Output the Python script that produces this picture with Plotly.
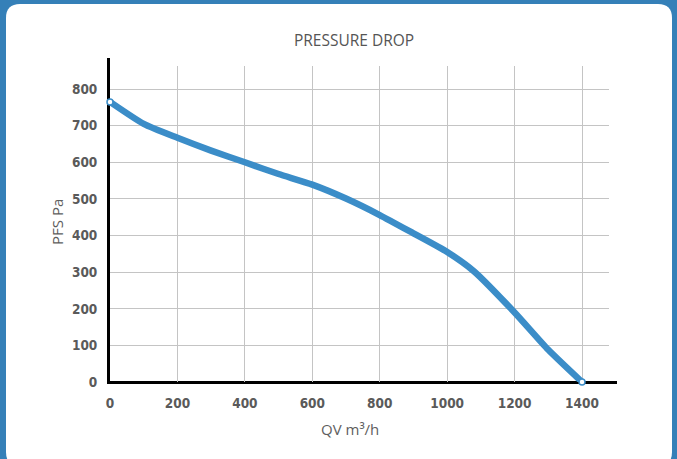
import plotly.graph_objects as go

# Data
qv = [0, 100, 200, 300, 400, 500, 600, 700, 800, 900, 1000, 1080, 1200, 1300, 1400]
pfs = [765, 705, 667, 632, 600, 568, 539, 501, 456, 406, 355, 302, 190, 88, 0]
x_ticks = [0, 200, 400, 600, 800, 1000, 1200, 1400]
y_ticks = [0, 100, 200, 300, 400, 500, 600, 700, 800]

W, H = 677, 459
L, R, T, B = 110, 68, 66, 77
PW, PH = W - L - R, H - T - B

def px(xp):
    return (xp - L) / PW

def py(yp):
    return (H - B - yp) / PH

BLUE = "rgb(59,141,200)"
TICKFONT = dict(family="DejaVu Sans Condensed, DejaVu Sans, sans-serif", size=13.5, color="#5a5a5a", weight="bold")
LABELFONT = dict(family="Open Sans, sans-serif", size=15, color="#5e5e5e")

fig = go.Figure()
fig.add_trace(go.Scatter(
    x=qv, y=pfs, mode="lines",
    line=dict(color=BLUE, width=6.5, shape="spline", smoothing=0.6),
    hoverinfo="skip", showlegend=False, cliponaxis=False,
))
fig.add_trace(go.Scatter(
    x=[qv[0], qv[-1]], y=[pfs[0], pfs[-1]], mode="markers",
    marker=dict(color="white", size=6, line=dict(color=BLUE, width=1.5)),
    hoverinfo="skip", showlegend=False, cliponaxis=False,
))

# rounded white card
l, r, t, b, rad = 6, 672, 4, 466, 14
card = (f"M {px(l+rad)} {py(t)} L {px(r-rad)} {py(t)} Q {px(r)} {py(t)} {px(r)} {py(t+rad)} "
        f"L {px(r)} {py(b-rad)} Q {px(r)} {py(b)} {px(r-rad)} {py(b)} "
        f"L {px(l+rad)} {py(b)} Q {px(l)} {py(b)} {px(l)} {py(b-rad)} "
        f"L {px(l)} {py(t+rad)} Q {px(l)} {py(t)} {px(l+rad)} {py(t)} Z")

shapes = [
    dict(type="path", path=card, xref="paper", yref="paper", fillcolor="white",
         line=dict(width=0), layer="below"),
    dict(type="line", xref="paper", yref="paper", x0=px(107), x1=px(617), y0=py(382.5), y1=py(382.5),
         line=dict(color="black", width=3), layer="between"),
    dict(type="line", xref="paper", yref="paper", x0=px(108.5), x1=px(108.5), y0=py(384), y1=py(58),
         line=dict(color="black", width=3), layer="between"),
]

annotations = [
    dict(text="PFS Pa", xref="paper", yref="paper", x=px(57), y=py(222), textangle=-90,
         showarrow=False, xanchor="center", yanchor="middle", font=LABELFONT),
    dict(text="QV m³/h", xref="paper", yref="paper", x=px(350), y=py(429),
         showarrow=False, xanchor="center", yanchor="middle", font=LABELFONT),
]

fig.update_layout(
    width=W, height=H,
    margin=dict(l=L, r=R, t=T, b=B),
    paper_bgcolor="#3580b8",
    plot_bgcolor="white",
    shapes=shapes,
    annotations=annotations,
    title=dict(text="PRESSURE DROP", x=px(354), xref="paper", xanchor="center",
               y=1 - 41 / H, yanchor="middle",
               font=dict(family="Open Sans, sans-serif", size=15.5, color="#555555")),
    xaxis=dict(range=[0, 1480], tickvals=x_ticks, showgrid=True, gridcolor="#c4c4c4", gridwidth=1,
               zeroline=False, showline=False, ticks="outside", ticklen=9, tickcolor="rgba(0,0,0,0)",
               tickfont=TICKFONT),
    yaxis=dict(range=[0, 863], tickvals=y_ticks, showgrid=True, gridcolor="#c4c4c4", gridwidth=1,
               zeroline=False, showline=False, ticks="outside", ticklen=9, tickcolor="rgba(0,0,0,0)",
               tickfont=TICKFONT),
)

fig.write_html("out.html", config={"displayModeBar": False},
               post_script="document.body.style.margin='0';")
